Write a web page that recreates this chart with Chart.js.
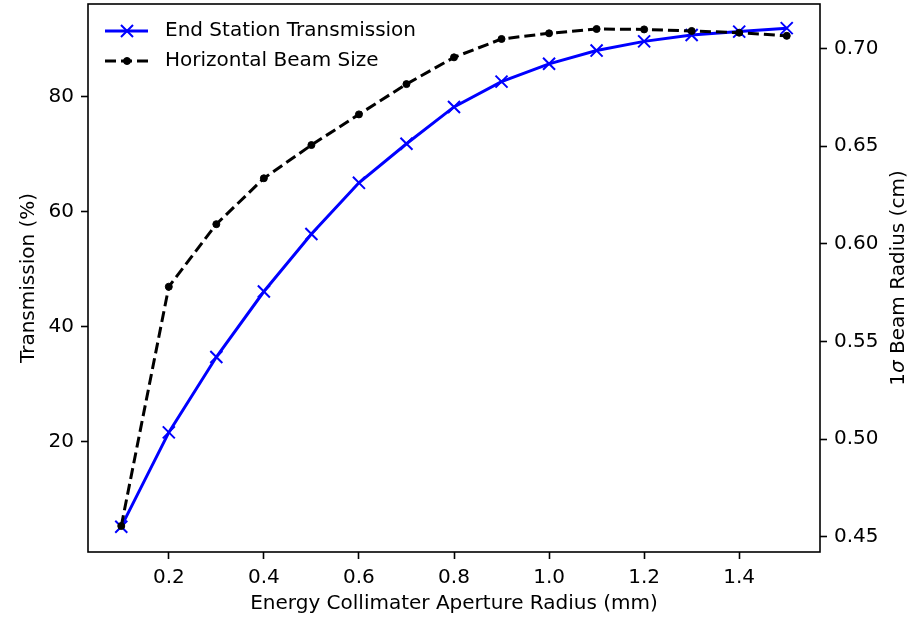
<!DOCTYPE html>
<html>
<head>
<meta charset="utf-8">
<script src="https://cdn.jsdelivr.net/npm/chart.js@4/dist/chart.umd.min.js"></script>
<style>
	body { margin: 0; background: #fff; }
	#wrap { width: 921px; height: 617px; }
</style>
</head>
<body>
<div id="wrap"><canvas id="aperture-chart" width="921" height="617"></canvas></div>
<script>
// values
var apertureRadius = [0.1, 0.2, 0.3, 0.4, 0.5, 0.6, 0.7, 0.8, 0.9, 1.0, 1.1, 1.2, 1.3, 1.4, 1.5];
var transmission = [5.2, 21.6, 34.7, 46.1, 56.1, 65.0, 71.8, 78.2, 82.6, 85.7, 88.0, 89.6, 90.7, 91.3, 91.9];
var beamSize = [0.4555, 0.578, 0.610, 0.6335, 0.6505, 0.6662, 0.6817, 0.6954, 0.7048, 0.7077, 0.7099, 0.7097, 0.7089, 0.7080, 0.7064];

var xTicks = [0.2, 0.4, 0.6, 0.8, 1.0, 1.2, 1.4];
var leftTicks = [20, 40, 60, 80];
var rightTicks = [0.45, 0.50, 0.55, 0.60, 0.65, 0.70];

var seriesLabels = ['End Station Transmission', 'Horizontal Beam Size'];

var fontFamily = '"DejaVu Sans", sans-serif';
var blue = '#0000ff';
var black = '#000000';

var toPoints = function(xs, ys) {
	var res = [];
	for (var i = 0; i < xs.length; ++i) {
		res.push({x: xs[i], y: ys[i]});
	}
	return res;
};

var fixTicks = function(values) {
	return function(scale) {
		scale.ticks = values.map(function(v) { return {value: v}; });
	};
};

// force the box size and drop the label overhang padding chart.js adds
var fitBox = function(prop, size) {
	return function(scale) {
		scale[prop] = size;
		scale.paddingTop = 0;
		scale.paddingBottom = 0;
		scale.paddingLeft = 0;
		scale.paddingRight = 0;
	};
};

// frame, legend and the right-hand label (which reads bottom to top)
var extrasPlugin = {
	id: 'extras',
	afterDraw: function(chart) {
		var ctx = chart.ctx;
		var area = chart.chartArea;
		ctx.save();

		ctx.strokeStyle = black;
		ctx.lineWidth = 1.6;
		ctx.strokeRect(area.left, area.top, area.right - area.left, area.bottom - area.top);

		ctx.font = '20px ' + fontFamily;
		ctx.textBaseline = 'middle';
		ctx.textAlign = 'left';
		chart.data.datasets.forEach(function(ds, i) {
			var y = 31 + i * 30;
			ctx.beginPath();
			ctx.setLineDash(ds.borderDash || []);
			ctx.strokeStyle = ds.borderColor;
			ctx.lineWidth = ds.borderWidth;
			ctx.moveTo(105, y);
			ctx.lineTo(148, y);
			ctx.stroke();
			ctx.setLineDash([]);
			ctx.lineWidth = ds.pointBorderWidth;
			Chart.helpers.drawPoint(ctx, {
				pointStyle: ds.pointStyle,
				radius: ds.pointRadius,
				borderWidth: ds.pointBorderWidth
			}, 127, y);
			ctx.fillStyle = black;
			ctx.font = '20px ' + fontFamily;
			ctx.fillText(ds.label, 165, y);
		});

		// right axis title
		var parts = [
			{t: '1', f: '20px ' + fontFamily},
			{t: '\u03c3', f: 'italic 20px ' + fontFamily},
			{t: ' Beam Radius (cm)', f: '20px ' + fontFamily}
		];
		var total = 0;
		parts.forEach(function(p) { ctx.font = p.f; p.w = ctx.measureText(p.t).width; total += p.w; });
		ctx.translate(899, (area.top + area.bottom) / 2);
		ctx.rotate(-Math.PI / 2);
		ctx.fillStyle = black;
		var px = -total / 2;
		parts.forEach(function(p) { ctx.font = p.f; ctx.fillText(p.t, px, 0); px += p.w; });
		ctx.restore();
	}
};

var axisGrid = {
	display: true,
	drawOnChartArea: false,
	drawTicks: true,
	tickLength: 7,
	tickWidth: 1.6,
	tickColor: black
};

var tickFont = {family: fontFamily, size: 20};

var handleApertureChart = function() {
	var ctx = document.getElementById('aperture-chart').getContext('2d');
	new Chart(ctx, {
		type: 'line',
		data: {
			datasets: [{
				label: seriesLabels[0],
				data: toPoints(apertureRadius, transmission),
				yAxisID: 'y',
				borderColor: blue,
				backgroundColor: blue,
				borderWidth: 3,
				pointStyle: 'crossRot',
				pointRadius: 8.5,
				pointBorderWidth: 2,
				pointBorderColor: blue,
				tension: 0,
				order: 1
			}, {
				label: seriesLabels[1],
				data: toPoints(apertureRadius, beamSize),
				yAxisID: 'y2',
				borderColor: black,
				backgroundColor: black,
				borderWidth: 3,
				borderDash: [11, 5],
				pointStyle: 'circle',
				pointRadius: 3.5,
				pointBorderWidth: 1,
				pointBorderColor: black,
				tension: 0,
				order: 0
			}]
		},
		options: {
			responsive: false,
			animation: false,
			devicePixelRatio: 1,
			layout: {autoPadding: false, padding: {top: 4, left: 0, right: 0, bottom: 0}},
			plugins: {
				legend: {display: false},
				tooltip: {enabled: false}
			},
			scales: {
				x: {
					type: 'linear',
					min: 0.03,
					max: 1.57,
					afterBuildTicks: fixTicks(xTicks),
					afterFit: fitBox('height', 65),
					grid: axisGrid,
					border: {display: false},
					ticks: {
						color: black,
						font: tickFont,
						padding: 7,
						maxRotation: 0,
						callback: function(v) { return v.toFixed(1); }
					},
					title: {
						display: true,
						text: 'Energy Collimater Aperture Radius (mm)',
						color: black,
						font: {family: fontFamily, size: 20},
						padding: {top: 0, bottom: 1}
					}
				},
				y: {
					type: 'linear',
					position: 'left',
					min: 0.8,
					max: 96.1,
					afterBuildTicks: fixTicks(leftTicks),
					afterFit: fitBox('width', 88),
					grid: axisGrid,
					border: {display: false},
					ticks: {
						color: black,
						font: tickFont,
						padding: 7,
						callback: function(v) { return v; }
					},
					title: {
						display: true,
						text: 'Transmission (%)',
						color: black,
						font: {family: fontFamily, size: 20},
						padding: {top: 17, bottom: 0}
					}
				},
				y2: {
					type: 'linear',
					position: 'right',
					min: 0.4422,
					max: 0.7227,
					afterBuildTicks: fixTicks(rightTicks),
					afterFit: fitBox('width', 101),
					grid: axisGrid,
					border: {display: false},
					ticks: {
						color: black,
						font: tickFont,
						padding: 7,
						callback: function(v) { return v.toFixed(2); }
					}
				}
			}
		},
		plugins: [extrasPlugin]
	});
};

handleApertureChart();
</script>
</body>
</html>
